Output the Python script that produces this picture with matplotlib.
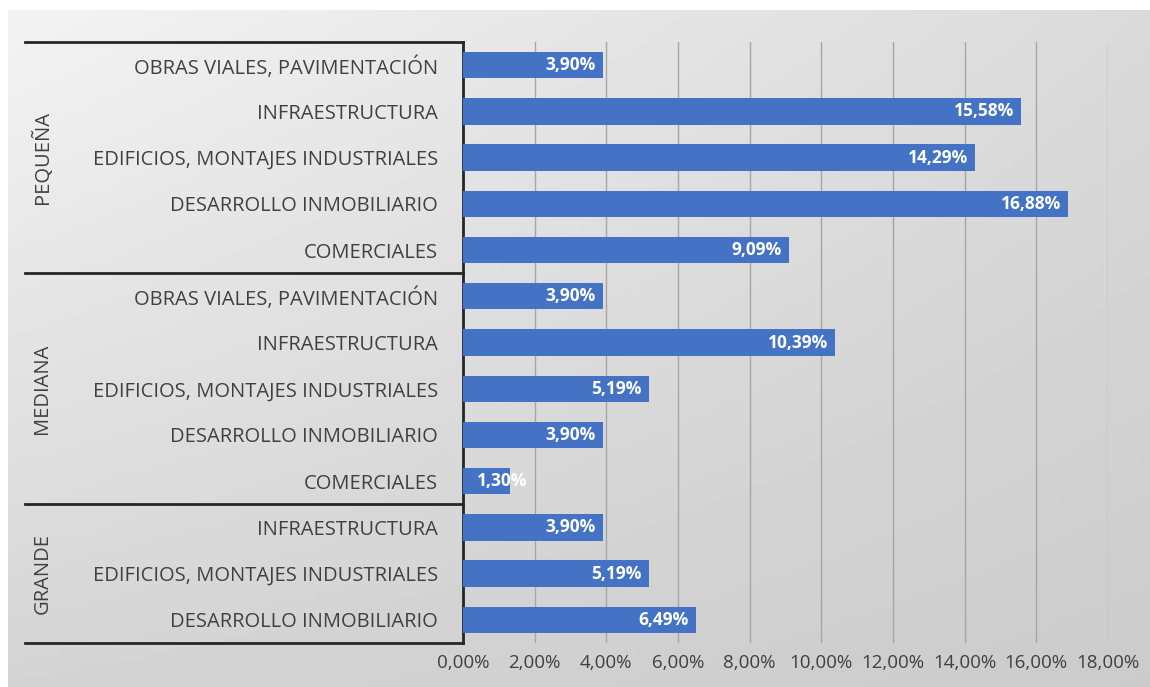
import matplotlib.pyplot as plt
import numpy as np

groups = ["PEQUEÑA", "MEDIANA", "GRANDE"]
pequena_cats = ["OBRAS VIALES, PAVIMENTACIÓN", "INFRAESTRUCTURA",
                "EDIFICIOS, MONTAJES INDUSTRIALES", "DESARROLLO INMOBILIARIO",
                "COMERCIALES"]
pequena_vals = [3.90, 15.58, 14.29, 16.88, 9.09]
mediana_cats = ["OBRAS VIALES, PAVIMENTACIÓN", "INFRAESTRUCTURA",
                "EDIFICIOS, MONTAJES INDUSTRIALES", "DESARROLLO INMOBILIARIO",
                "COMERCIALES"]
mediana_vals = [3.90, 10.39, 5.19, 3.90, 1.30]
grande_cats = ["INFRAESTRUCTURA", "EDIFICIOS, MONTAJES INDUSTRIALES",
               "DESARROLLO INMOBILIARIO"]
grande_vals = [3.90, 5.19, 6.49]
xticks = [0, 2, 4, 6, 8, 10, 12, 14, 16, 18]

cats = pequena_cats + mediana_cats + grande_cats
vals = pequena_vals + mediana_vals + grande_vals
sizes = [len(pequena_cats), len(mediana_cats), len(grande_cats)]

plt.rcParams['font.family'] = ['Open Sans', 'DejaVu Sans']
txt = '#404040'

fig = plt.figure(figsize=(11.5, 6.87), dpi=100)

# gradient background (Excel style)
bg = fig.add_axes([8 / 1150, 0, 1 - 8 / 1150, 1 - 10 / 687], zorder=-10)
gx = np.linspace(0, 1, 200)
gy = np.linspace(0, 1, 120)
X, Y = np.meshgrid(gx, gy)
G = (243 * (1 - X) * (1 - Y) + 218 * X * (1 - Y) + 212 * (1 - X) * Y + 203 * X * Y) / 255
bg.imshow(G, cmap='gray', vmin=0, vmax=1, aspect='auto', extent=[0, 1, 1, 0])
bg.axis('off')

ax = fig.add_axes([463 / 1150, 1 - 643 / 687, (1108 - 463) / 1150, (643 - 42) / 687])
ax.patch.set_alpha(0)
n = len(cats)
y = np.arange(n)
ax.barh(y, vals, height=0.57, color='#4472C4', zorder=3)
for yi, v in zip(y, vals):
    lab = f"{v:.2f}%".replace('.', ',')
    if v > 2:
        ax.text(v - 0.2, yi, lab, ha='right', va='center',
                color='white', fontsize=12.5, fontweight='bold', zorder=4)
    else:
        # too short: excel lets the label run past the bar end
        ax.text(0.4, yi, lab, ha='left', va='center',
                color='white', fontsize=12.5, fontweight='bold', zorder=4)

ax.set_xlim(0, 18)
ax.set_ylim(n - 0.5, -0.5)
ax.set_xticks(xticks)
ax.set_xticklabels([f"{t:.2f}%".replace('.', ',') for t in xticks], fontsize=13.5, color=txt)
ax.tick_params(axis='x', length=0, pad=8)
ax.grid(axis='x', color='#a6a6a6', lw=1, zorder=0)
ax.set_yticks(y)
ax.set_yticklabels(cats, fontsize=14.5, color=txt)
ax.tick_params(axis='y', length=0, pad=18)
for s in ['top', 'right', 'bottom']:
    ax.spines[s].set_visible(False)
ax.spines['left'].set_color('#262626')
ax.spines['left'].set_linewidth(2)

# group boxes
trans = ax.get_yaxis_transform()
x0 = (25 - 463) / (1108 - 463)
start = 0
bounds = [-0.5]
for g, s in zip(groups, sizes):
    mid = start + (s - 1) / 2
    ax.text(x0 + 0.027, mid, g, rotation=90, ha='center', va='center',
            fontsize=14.5, color=txt, transform=trans)
    start += s
    bounds.append(start - 0.5)
for b in bounds:
    ax.plot([x0, 0], [b, b], color='#262626', lw=2, transform=trans, clip_on=False)

fig.savefig('out.png', dpi=100)
